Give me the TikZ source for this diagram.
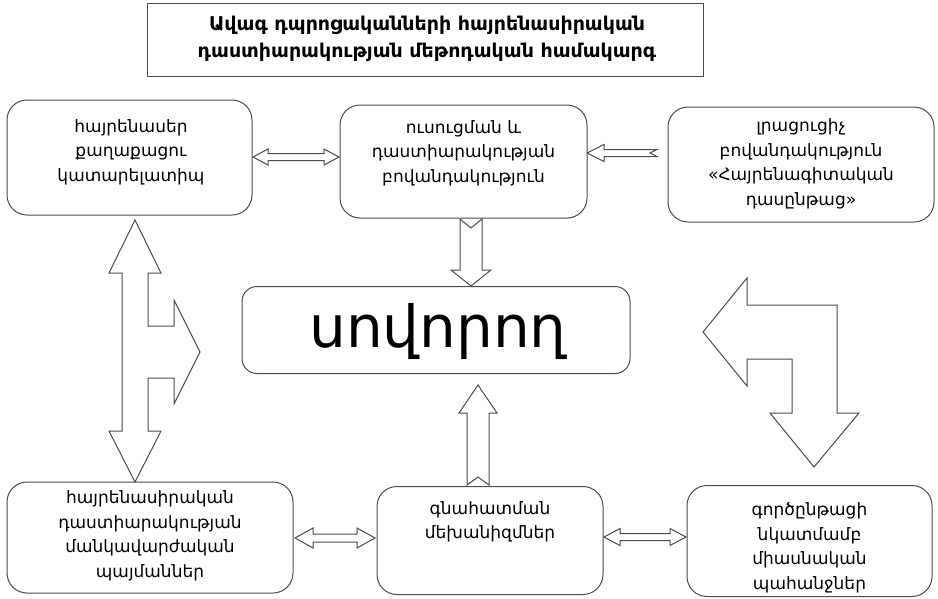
\documentclass[tikz,border=0pt]{standalone}
\usepackage{fontspec}
\setmainfont{DejaVu Sans}
\begin{document}
\begin{tikzpicture}[x=1pt,y=-1pt,
  rbox/.style={draw=black!70,line width=1pt,rounded corners=20pt,inner sep=0pt},
  tbox/.style={draw=black!70,line width=1pt,inner sep=0pt},
  txt/.style={align=center,font=\fontsize{17}{24.5}\selectfont,inner sep=0pt},
  blk/.style={draw=black!70,line width=1pt,fill=white,line join=miter}]
\useasboundingbox (0,0) rectangle (938,598);
% title
\node[tbox,minimum width=556pt,minimum height=73pt] (title) at (425,39.5) {};
\node[txt,font=\fontsize{19}{27}\selectfont\bfseries] (titletxt) at (427,39) {Ավագ դպրոցականների հայրենասիրական\\դաստիարակության մեթոդական համակարգ};
% boxes
\node[rbox,minimum width=245pt,minimum height=115pt] (b1) at (129.5,157.5) {};
\node[txt] (t1) at (131,152) {հայրենասեր\\քաղաքացու\\կատարելատիպ};
\node[rbox,minimum width=247pt,minimum height=113pt] (b2) at (463.5,161.5) {};
\node[txt] (t2) at (463.5,153) {ուսուցման և\\դաստիարակության\\բովանդակություն};
\node[rbox,minimum width=266pt,minimum height=115pt] (b3) at (801,164.5) {};
\node[txt] (t3) at (801,164) {լրացուցիչ\\բովանդակություն\\«Հայրենագիտական\\դասընթաց»};
\node[rbox,rounded corners=15pt,minimum width=388pt,minimum height=87pt] (c) at (436,330) {};
\node[txt,font=\fontsize{58}{66}\selectfont] (ct) at (438,331) {սովորող};
\node[rbox,minimum width=286pt,minimum height=111pt] (b4) at (150,537.5) {};
\node[txt] (t4) at (150,536) {հայրենասիրական\\դաստիարակության\\մանկավարժական\\պայմաններ};
\node[rbox,minimum width=226pt,minimum height=108pt] (b5) at (490,540.5) {};
\node[txt] (t5) at (490,522) {գնահատման\\մեխանիզմներ};
\node[rbox,minimum width=245pt,minimum height=111pt] (b6) at (809.5,541) {};
\node[txt] (t6) at (809.5,548) {գործընթացի\\նկատմամբ\\միասնական\\պահանջներ};
% arrows
% b1 <-> b2
\draw[blk] (253,157) -- (268,149) -- (268,153.5) -- (324,153.5) -- (324,149) -- (339,157) -- (324,165) -- (324,160.5) -- (268,160.5) -- (268,165) -- cycle;
% b3 -> b2 notched
\draw[blk] (587,153) -- (604,144.5) -- (604,149.5) -- (657,149.5) -- (650,153) -- (657,156.5) -- (604,156.5) -- (604,161.5) -- cycle;
% b2 -> c
\draw[blk] (460,219) -- (471,228) -- (482,219) -- (482,270) -- (491,270) -- (471,286) -- (451,270) -- (460,270) -- cycle;
% b5 -> c
\draw[blk] (467,485) -- (478,477) -- (489,485) -- (489,413) -- (497,413) -- (478,385) -- (459,413) -- (467,413) -- cycle;
% left branched arrow
\draw[blk] (135,220) -- (161,273) -- (148,273) -- (148,326) -- (174,326) -- (174,300) -- (200,352) -- (174,404) -- (174,378) -- (148,378) -- (148,431) -- (161,431) -- (135,482) -- (109,431) -- (122,431) -- (122,273) -- (109,273) -- cycle;
% right bent arrow
\draw[blk] (703,332) -- (747,278) -- (747,305) -- (837,305) -- (837,413) -- (859,413) -- (814,467) -- (770,413) -- (792,413) -- (792,359) -- (747,359) -- (747,386) -- cycle;
% b4 <-> b5
\draw[blk] (295,538) -- (313,528) -- (313,534) -- (357,534) -- (357,528) -- (375,538) -- (357,548) -- (357,542) -- (313,542) -- (313,548) -- cycle;
% b5 <-> b6
\draw[blk] (604,537) -- (620,528.5) -- (620,533.5) -- (670,533.5) -- (670,528.5) -- (686,537) -- (670,545.5) -- (670,540.5) -- (620,540.5) -- (620,545.5) -- cycle;
\end{tikzpicture}
\end{document}
